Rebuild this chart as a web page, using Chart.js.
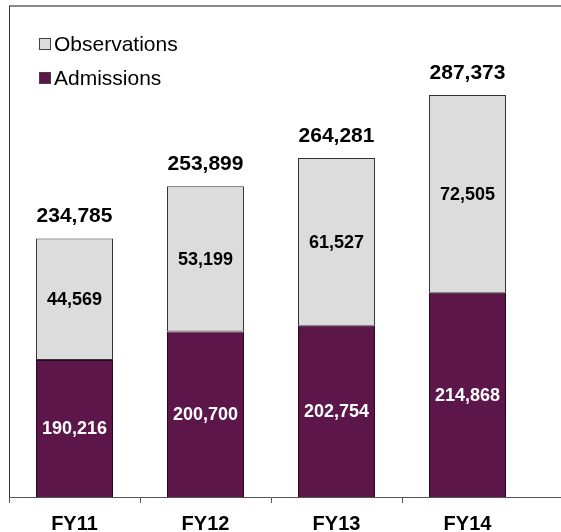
<!DOCTYPE html>
<html>
<head>
<meta charset="utf-8">
<script src="https://cdn.jsdelivr.net/npm/chart.js@4"></script>
<style>
  html, body { margin: 0; padding: 0; background: #fff; }
  #wrap { width: 561px; height: 532px; position: relative; }
</style>
</head>
<body>
<div id="wrap"><canvas id="c" width="561" height="532"></canvas></div>
<script>
const categories = ['FY11', 'FY12', 'FY13', 'FY14'];
const admissions = [190216, 200700, 202754, 214868];
const observations = [44569, 53199, 61527, 72505];
const totals = [234785, 253899, 264281, 287373];
const seriesNames = ['Admissions', 'Observations'];

const ADM_COLOR = '#5C1649';
const OBS_COLOR = '#DCDCDC';
const FONT = "'Liberation Sans', Arial, sans-serif";

const fmt = v => v.toLocaleString('en-US');

const decoPlugin = {
  id: 'deco',
  beforeDraw(chart) {
    const ctx = chart.ctx, a = chart.chartArea;
    ctx.save();
    ctx.fillStyle = '#fff';
    ctx.fillRect(0, 0, chart.width, chart.height);
    ctx.strokeStyle = '#8a8a8a';
    ctx.lineWidth = 2;
    ctx.beginPath();
    ctx.moveTo(a.left, a.top);
    ctx.lineTo(chart.width, a.top);
    ctx.stroke();
    ctx.strokeStyle = '#333';
    ctx.lineWidth = 1;
    ctx.beginPath();
    ctx.moveTo(a.left + 0.5, a.top);
    ctx.lineTo(a.left + 0.5, a.bottom);
    ctx.stroke();
    ctx.restore();
  },
  afterDraw(chart) {
    const ctx = chart.ctx, a = chart.chartArea;
    ctx.save();
    ctx.strokeStyle = '#555';
    ctx.lineWidth = 1;
    ctx.beginPath();
    ctx.moveTo(a.right, a.bottom + 0.5);
    ctx.lineTo(chart.width, a.bottom + 0.5);
    ctx.stroke();

    // legend
    const items = [
      { label: seriesNames[1], color: OBS_COLOR, y: 44 },
      { label: seriesNames[0], color: ADM_COLOR, y: 78 }
    ];
    ctx.font = '21px ' + FONT;
    ctx.textBaseline = 'middle';
    ctx.textAlign = 'left';
    items.forEach(it => {
      ctx.fillStyle = it.color;
      ctx.fillRect(39.5, it.y - 5.5, 11, 11);
      ctx.strokeStyle = '#444';
      ctx.lineWidth = 1;
      ctx.strokeRect(39.5, it.y - 5.5, 11, 11);
      ctx.fillStyle = '#000';
      ctx.fillText(it.label, 54, it.y + 1);
    });

    const admMeta = chart.getDatasetMeta(0);
    const obsMeta = chart.getDatasetMeta(1);
    ctx.textAlign = 'center';
    ctx.textBaseline = 'middle';
    ctx.font = 'bold 18px ' + FONT;
    admMeta.data.forEach((bar, i) => {
      const top = Math.max(bar.y, a.top);
      const bottom = Math.min(bar.base, a.bottom);
      ctx.fillStyle = '#fff';
      ctx.fillText(fmt(admissions[i]), bar.x, (top + bottom) / 2 + 1);
    });
    obsMeta.data.forEach((bar, i) => {
      ctx.fillStyle = '#000';
      ctx.fillText(fmt(observations[i]), bar.x, (bar.y + bar.base) / 2 + 1);
    });
    ctx.font = 'bold 21px ' + FONT;
    ctx.textBaseline = 'alphabetic';
    obsMeta.data.forEach((bar, i) => {
      ctx.fillStyle = '#000';
      ctx.fillText(fmt(totals[i]), bar.x, bar.y - 16);
    });
    ctx.restore();
  }
};

new Chart(document.getElementById('c'), {
  type: 'bar',
  data: {
    labels: categories,
    datasets: [
      {
        label: seriesNames[0],
        data: admissions,
        backgroundColor: ADM_COLOR,
        borderColor: '#2a0820',
        borderWidth: 1,
        borderSkipped: false
      },
      {
        label: seriesNames[1],
        data: observations,
        backgroundColor: OBS_COLOR,
        borderColor: '#333333',
        borderWidth: 1,
        borderSkipped: false
      }
    ]
  },
  options: {
    responsive: false,
    animation: false,
    devicePixelRatio: 1,
    layout: { padding: { left: 9, right: 28, top: 6, bottom: 0 } },
    plugins: { legend: { display: false }, tooltip: { enabled: false } },
    datasets: { bar: { categoryPercentage: 1, barPercentage: 0.588 } },
    scales: {
      x: {
        stacked: true,
        afterFit(scale) { scale.height = 35; },
        grid: {
          offset: true,
          drawOnChartArea: false,
          drawTicks: true,
          tickLength: 6,
          tickColor: c => (c.type === 'tick' ? '#555' : 'rgba(0,0,0,0)')
        },
        border: { display: true, color: '#555', width: 1 },
        ticks: {
          color: '#000',
          font: { family: FONT, size: 20, weight: 'bold' },
          padding: 9
        }
      },
      y: {
        stacked: true,
        display: false,
        min: 140000,
        max: 320000
      }
    }
  },
  plugins: [decoPlugin]
});
</script>
</body>
</html>
